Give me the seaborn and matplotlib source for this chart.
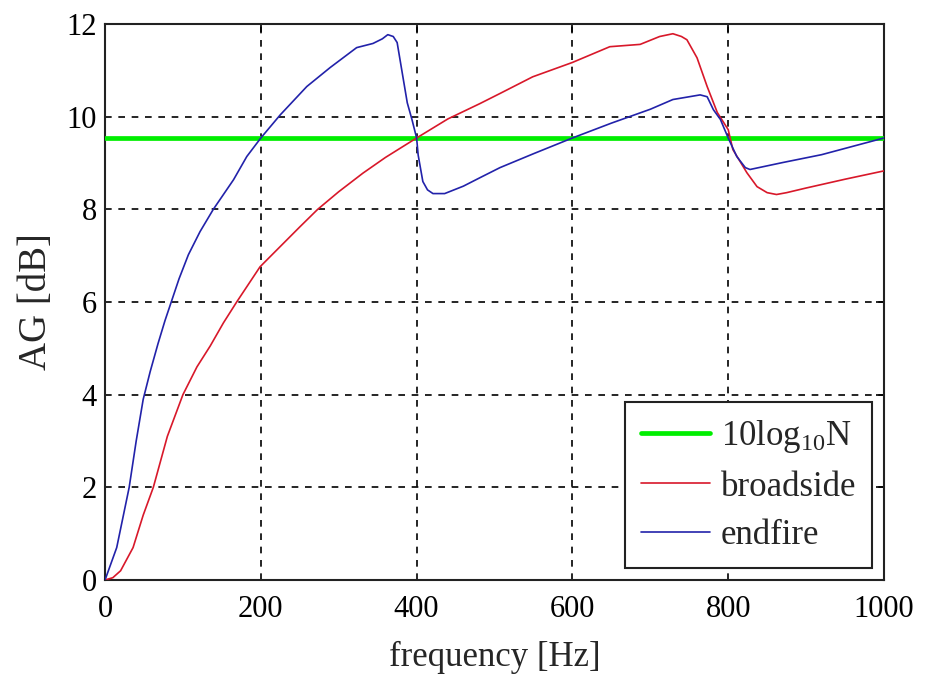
import numpy as np
import pandas as pd
import matplotlib
matplotlib.use("Agg")
import matplotlib.pyplot as plt
import seaborn as sns

# ---- data ----
freq_endfire = [0, 15, 31, 40, 49, 58, 68, 77, 83, 95, 107, 122, 139, 165, 182, 200, 225, 259, 289,
                323, 344, 356, 363, 370, 375, 381, 388, 394, 400, 402, 408, 414, 421, 436, 460, 481,
                507, 550, 600, 650, 700, 729, 750, 764, 773, 781, 790, 800, 811, 822, 828, 870, 920,
                960, 1000]
ag_endfire = [0, 0.7, 2.0, 3.0, 3.9, 4.5, 5.1, 5.6, 5.9, 6.5, 7.02, 7.52, 8.0, 8.64, 9.14, 9.54,
              10.04, 10.65, 11.06, 11.49, 11.58, 11.68, 11.77, 11.73, 11.6, 11.0, 10.3, 9.94, 9.54,
              9.17, 8.6, 8.42, 8.34, 8.34, 8.5, 8.68, 8.9, 9.2, 9.54, 9.86, 10.16, 10.37, 10.43, 10.47,
              10.43, 10.15, 9.94, 9.54, 9.14, 8.9, 8.86, 9.01, 9.18, 9.36, 9.54]

freq_broadside = [0, 10, 20, 36, 49, 62, 80, 100, 118, 135, 152, 169, 199, 250, 273, 300, 331, 360,
                  400, 440, 481, 507, 549, 600, 648, 687, 712, 729, 740, 747, 760, 773, 786, 800, 806,
                  824, 837, 850, 862, 875, 900, 950, 1000]
ag_broadside = [0, 0.05, 0.2, 0.7, 1.4, 2.0, 3.1, 4.0, 4.6, 5.05, 5.55, 6.0, 6.76, 7.62, 8.0, 8.38,
                8.78, 9.12, 9.54, 9.95, 10.28, 10.5, 10.86, 11.17, 11.51, 11.56, 11.73, 11.79, 11.73,
                11.66, 11.27, 10.65, 10.09, 9.72, 9.29, 8.79, 8.49, 8.36, 8.32, 8.36, 8.46, 8.65, 8.83]

freq_ref = [0, 1000]
n_sensors = 9
ag_ref = [10 * np.log10(n_sensors)] * 2

x_ticks = [0, 200, 400, 600, 800, 1000]
y_ticks = [0, 2, 4, 6, 8, 10, 12]
labels = [r"10log$_{\mathrm{10}}$N", "broadside", "endfire"]

# ---- plot ----
sns.set_style("white")
plt.rcParams["font.family"] = ["Liberation Serif", "DejaVu Serif"]
plt.rcParams["mathtext.fontset"] = "custom"
plt.rcParams["mathtext.rm"] = "Liberation Serif"
plt.rcParams["mathtext.it"] = "Liberation Serif:italic"

fig = plt.figure(figsize=(9.27, 6.76), dpi=100)
ax = fig.add_axes([0.1133, 0.142, 0.8403, 0.8225])

df_ref = pd.DataFrame({"f": freq_ref, "ag": ag_ref})
df_b = pd.DataFrame({"f": freq_broadside, "ag": ag_broadside})
df_e = pd.DataFrame({"f": freq_endfire, "ag": ag_endfire})

sns.lineplot(data=df_ref, x="f", y="ag", ax=ax, color="#00ee00", lw=3.4, label=labels[0], zorder=3)
sns.lineplot(data=df_b, x="f", y="ag", ax=ax, color="#d8182a", lw=1.2, label=labels[1], zorder=4)
sns.lineplot(data=df_e, x="f", y="ag", ax=ax, color="#2222aa", lw=1.2, label=labels[2], zorder=5)

ax.set_xlim(0, 1000)
ax.set_ylim(0, 12)
ax.set_xticks(x_ticks)
ax.set_yticks(y_ticks)
ax.tick_params(direction="in", length=6, width=1.2, labelsize=22, top=True, right=True, colors="black")
ax.tick_params(axis="x", pad=11)
ax.tick_params(axis="y", pad=6)
ax.grid(True, color="black", linestyle=(0, (4, 4)), lw=1.2)
for s in ax.spines.values():
    s.set_color("#222222")
    s.set_linewidth(1.5)
ax.set_xlabel("frequency [Hz]", fontsize=25, labelpad=12)
ax.set_ylabel("AG [dB]", fontsize=28, labelpad=8)

leg = ax.legend(loc="lower right", fontsize=25, frameon=True, fancybox=False, framealpha=1,
                edgecolor="#222222", borderaxespad=0.35, handlelength=2.0, handletextpad=0.3,
                labelspacing=0.45, borderpad=0.45)
leg.get_frame().set_linewidth(1.5)

fig.savefig("out.png", dpi=100, facecolor="white")
